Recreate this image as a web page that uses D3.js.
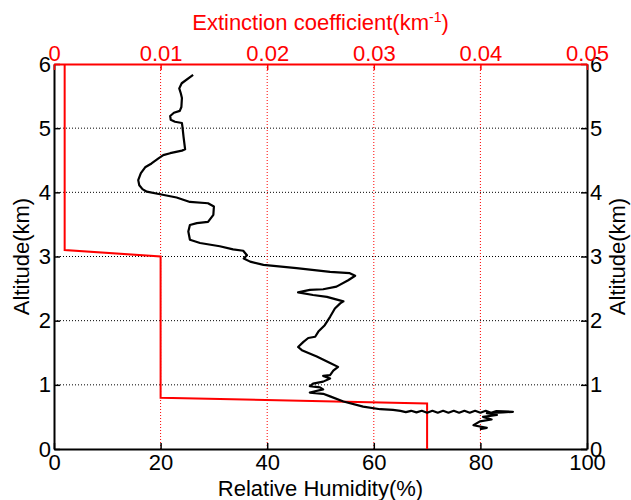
<!DOCTYPE html>
<html><head><meta charset="utf-8">
<script src="https://cdn.jsdelivr.net/npm/d3@7"></script>
<style>body{margin:0;background:#fff;}text{font-family:Arial,"Liberation Sans",sans-serif;}</style>
</head><body>
<svg id="c" width="631" height="500"></svg>
<script>
// Relative humidity profile (%), altitude (km)
const rhValues = [26.1,23.96,23.5,23.8,24.0,23.9,23.6,22.5,21.8,21.9,22.7,24.0,24.1,24.3,24.6,24.0,21.8,20.5,19.6,18.3,17.1,16.3,15.8,16.0,16.6,17.4,19.9,23.0,25.5,28.9,30.0,29.9,28.9,26.8,25.5,25.2,25.5,27.4,31.1,33.6,35.5,36.2,35.6,36.8,39.3,45.5,51.8,55.5,56.5,55.2,53.0,50.5,48.0,45.8,48.6,51.2,54.3,53.7,52.7,51.8,50.8,49.6,49.0,47.7,46.8,45.8,46.5,49.3,51.8,53.3,52.4,51.8,50.5,51.8,50.5,48.6,48.0,49.9,50.5,48.0,50.5,51.8,54.3,58.0,61.2,63.6,65.0,66.0,67.0,68.0,69.0,70.0,71.0,72.0,73.0,74.0,75.0,76.0,77.0,78.0,79.0,80.0,81.0,82.0,83.0,86.1,84.2,81.2,83.1,80.5,82.1,79.9,78.7,81.2,79.9];
const rhAltitude = [5.83,5.70,5.62,5.54,5.47,5.33,5.27,5.24,5.19,5.13,5.10,5.08,5.02,4.87,4.67,4.65,4.61,4.58,4.53,4.45,4.39,4.30,4.19,4.11,4.05,4.01,3.97,3.92,3.85,3.83,3.78,3.65,3.54,3.52,3.49,3.39,3.26,3.21,3.16,3.11,3.09,3.02,2.97,2.92,2.87,2.82,2.76,2.74,2.70,2.63,2.53,2.49,2.48,2.44,2.40,2.37,2.30,2.27,2.19,2.06,1.93,1.83,1.75,1.73,1.67,1.59,1.54,1.44,1.34,1.28,1.22,1.15,1.14,1.10,1.05,1.02,0.98,0.96,0.93,0.88,0.86,0.82,0.74,0.66,0.62,0.61,0.595,0.575,0.595,0.57,0.595,0.565,0.595,0.565,0.595,0.565,0.595,0.565,0.595,0.565,0.595,0.565,0.595,0.565,0.59,0.58,0.57,0.56,0.53,0.50,0.46,0.43,0.37,0.33,0.31,0.27];
// Extinction coefficient profile (km^-1)
const extValues = [0.001,0.001,0.01,0.01,0.035,0.035];
const extAltitude = [6.0,3.10,3.0,0.80,0.71,0.0];
// Tick labels
const rhTicks = [0,20,40,60,80,100];
const extTicks = [0,0.01,0.02,0.03,0.04,0.05];
const extTickLabels = ["0","0.01","0.02","0.03","0.04","0.05"];
const altTicks = [0,1,2,3,4,5,6];

const L=54,R=587,T=64,B=449;
const svg=d3.select("#c");
const x=d3.scaleLinear().domain([0,100]).range([L,R]);
const x2=d3.scaleLinear().domain([0,0.05]).range([L,R]);
const y=d3.scaleLinear().domain([0,6]).range([B,T]);
const FS=22;

// grids
svg.append("g").selectAll("line").data(altTicks.filter(d=>d>0&&d<6)).join("line")
  .attr("x1",L).attr("x2",R).attr("y1",d=>y(d)).attr("y2",d=>y(d))
  .attr("stroke","#000").attr("stroke-width",1).attr("stroke-dasharray","1,2");
svg.append("g").selectAll("line").data(extTicks.filter(d=>d>0&&d<0.05)).join("line")
  .attr("y1",T).attr("y2",B).attr("x1",d=>x2(d)).attr("x2",d=>x2(d))
  .attr("stroke","#f00").attr("stroke-width",1).attr("stroke-dasharray","1,2");

// axes
const ax = (g,color)=>{g.select(".domain").attr("stroke",color).attr("stroke-width",2);
  g.selectAll(".tick line").attr("stroke",color).attr("stroke-width",1.5);
  g.selectAll(".tick text").attr("fill",color).style("font-size",FS+"px").style("font-family","Arial, 'Liberation Sans', sans-serif");};
svg.append("g").attr("transform",`translate(0,${B})`)
  .call(d3.axisBottom(x).tickValues(rhTicks).tickSize(-6).tickSizeOuter(0).tickPadding(5).tickFormat(d3.format("d")))
  .call(g=>ax(g,"#000"));
svg.append("g").attr("transform",`translate(${L},0)`)
  .call(d3.axisLeft(y).tickValues(altTicks).tickSize(-6).tickSizeOuter(0).tickPadding(3).tickFormat(d3.format("d")))
  .call(g=>ax(g,"#000"));
svg.append("g").attr("transform",`translate(${R},0)`)
  .call(d3.axisRight(y).tickValues(altTicks).tickSize(-6).tickSizeOuter(0).tickPadding(3).tickFormat(d3.format("d")))
  .call(g=>ax(g,"#000"));
svg.append("g").attr("transform",`translate(0,${T})`)
  .call(d3.axisTop(x2).tickValues(extTicks).tickSize(-6).tickSizeOuter(0).tickPadding(3).tickFormat((d,i)=>extTickLabels[i]))
  .call(g=>ax(g,"#f00"));

// data lines
svg.append("path").datum(extValues.map((v,i)=>[v,extAltitude[i]]))
  .attr("fill","none").attr("stroke","#f00").attr("stroke-width",2)
  .attr("d",d3.line().x(d=>x2(d[0])).y(d=>y(d[1])));
svg.append("path").datum(rhValues.map((v,i)=>[v,rhAltitude[i]]))
  .attr("fill","none").attr("stroke","#000").attr("stroke-width",2.2).attr("stroke-linejoin","round")
  .attr("d",d3.line().x(d=>x(d[0])).y(d=>y(d[1])));

// labels
const t1=svg.append("text").attr("x",(L+R)/2).attr("y",30).attr("text-anchor","middle").attr("fill","#f00").style("font-size",FS+"px");
t1.append("tspan").text("Extinction coefficient(km");
t1.append("tspan").attr("dy",-8).style("font-size","14px").text("-1");
t1.append("tspan").attr("dy",8).text(")");
svg.append("text").attr("x",(L+R)/2).attr("y",496).attr("text-anchor","middle").style("font-size",FS+"px").text("Relative Humidity(%)");
svg.append("text").attr("transform",`translate(29,${(T+B)/2}) rotate(-90)`).attr("text-anchor","middle").style("font-size",FS+"px").text("Altitude(km)");
svg.append("text").attr("transform",`translate(625,${(T+B)/2}) rotate(-90)`).attr("text-anchor","middle").style("font-size",FS+"px").text("Altitude(km)");
</script>
</body></html>
